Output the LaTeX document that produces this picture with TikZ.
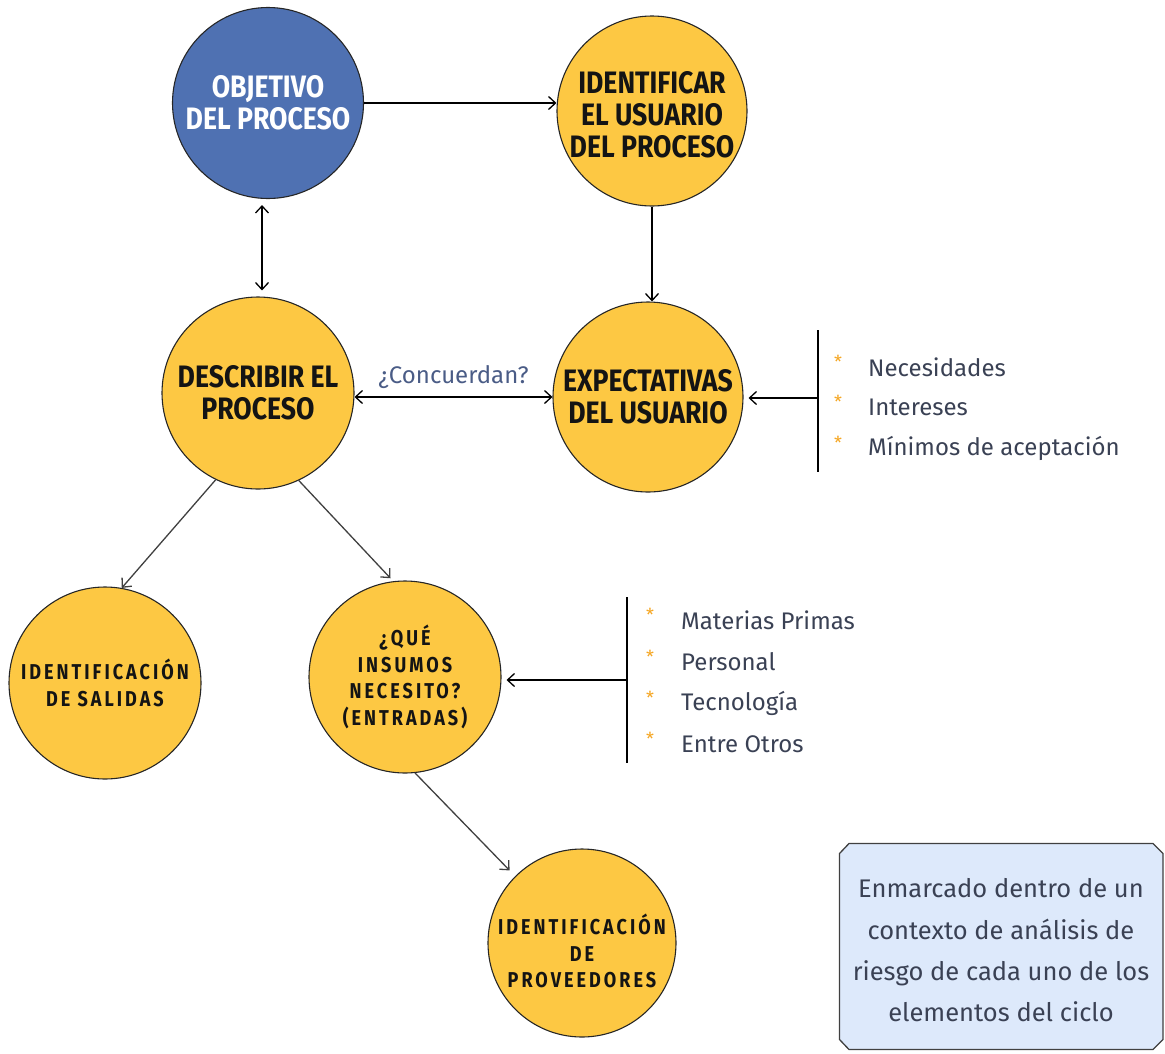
\documentclass[tikz,border=0pt]{standalone}
\usepackage{fontspec}
\setmainfont{Fira Sans}
\newfontfamily\condfont[FakeStretch=0.86]{Fira Sans}
\newfontfamily\condspaced[FakeStretch=0.84,LetterSpace=14]{Fira Sans}
\usetikzlibrary{arrows.meta,calc}
\definecolor{yellowc}{HTML}{FDC843}
\definecolor{bluec}{HTML}{4F71B2}
\definecolor{itemc}{HTML}{3A4154}
\definecolor{askc}{HTML}{4A5C86}
\definecolor{starc}{HTML}{F5A623}
\definecolor{boxc}{HTML}{DDE9FB}
\begin{document}
\begin{tikzpicture}[x=1pt,y=-1pt,
  circ/.style={circle, draw=black!85, line width=1.1pt, minimum size=190pt, inner sep=0pt,
     align=center, fill=yellowc, text=black!92},
  bigtxt/.style={font=\condfont\bfseries\fontsize{31}{32}\selectfont},
  smalltxt/.style={font=\condspaced\bfseries\fontsize{21.5}{26.5}\selectfont},
  arr/.style={-{Straight Barb[length=7pt,width=13pt]}, line width=1.3pt},
  darr/.style={{Straight Barb[length=7pt,width=13pt]}-{Straight Barb[length=7pt,width=13pt]}, line width=1.3pt},
  item/.style={anchor=west, text=itemc, font=\fontsize{24}{26}\selectfont, inner sep=0pt},
  star/.style={anchor=center, text=starc, font=\fontsize{18}{18}\selectfont, inner sep=0pt},
  noteframe/.style={draw=black!75, line width=1.3pt, fill=boxc, line join=round},
  notetext/.style={align=center, text=itemc, font=\fontsize{25.5}{41.3}\selectfont, inner sep=0pt}
]
\useasboundingbox (0,0) rectangle (1165,1053);

% circles
\node[circ, bigtxt, fill=bluec, text=white, minimum size=191pt] (obj) at (268,103) {OBJETIVO\\DEL PROCESO};
\node[circ, bigtxt] (ident) at (652,111) {\\[-3pt]IDENTIFICAR\\EL USUARIO\\DEL PROCESO};
\node[circ, bigtxt, minimum size=192pt] (desc) at (258,393) {DESCRIBIR EL\\PROCESO};
\node[circ, bigtxt] (exp) at (648,397) {EXPECTATIVAS\\DEL USUARIO};
\node[circ, smalltxt, minimum size=192pt] (sal) at (105,683) {IDENTIFICACIÓN\\DE SALIDAS};
\node[circ, smalltxt, minimum size=192pt] (ins) at (405,677) {¿QUÉ\\INSUMOS\\NECESITO?\\(ENTRADAS)};
\node[circ, minimum size=188pt] (prov) at (582,943) {};
\node[smalltxt, align=center, text=black!92, inner sep=0pt] (provtxt) at ([yshift=-8pt]prov.center) {IDENTIFICACIÓN\\DE\\PROVEEDORES};

% connectors
\draw[arr] (obj.east) -- (obj.east -| ident.west);
\draw[arr] (ident.south) -- (ident.south |- exp.north);
\draw[darr, shorten <=6pt, shorten >=6pt] ([xshift=-6pt]obj.south) -- ([xshift=4pt]desc.north);
\draw[darr] (exp.west -| desc.east) -- node[above=4pt, text=askc, font=\fontsize{24}{26}\selectfont] (ask) {¿Concuerdan?} (exp.west);
\draw[arr, black!75] (desc.244) -- (sal.80);
\draw[arr, black!75, shorten >=4pt] (desc.295) -- (ins.97);
\draw[arr, black!75, shorten >=8pt] (ins.276) -- (prov.135);

% list 1
\coordinate (b1top) at (818,330);
\coordinate (b1bot) at (818,472);
\coordinate (b1mid) at (818,398);
\draw[line width=1.3pt] (b1top) -- (b1bot);
\draw[arr, shorten >=5pt] (b1mid) -- (b1mid -| exp.east);
\node[star] (s11) at (838,362) {*};
\node[star] (s12) at (838,402) {*};
\node[star] (s13) at (838,443) {*};
\node[item] (i11) at (868,367) {Necesidades};
\node[item] (i12) at (868,407) {Intereses};
\node[item] (i13) at (868,448) {Mínimos de aceptación};

% list 2
\coordinate (b2top) at (627,597);
\coordinate (b2bot) at (627,763);
\coordinate (b2mid) at (627,680);
\draw[line width=1.3pt] (b2top) -- (b2bot);
\draw[arr, shorten >=5pt] (b2mid) -- (b2mid -| ins.east);
\node[star] (s21) at (650,615) {*};
\node[star] (s22) at (650,657) {*};
\node[star] (s23) at (650,698) {*};
\node[star] (s24) at (650,739) {*};
\node[item] (i21) at (681,620) {Materias Primas};
\node[item] (i22) at (681,662) {Personal};
\node[item] (i23) at (681,703) {Tecnología};
\node[item] (i24) at (681,744) {Entre Otros};

% note box
\draw[noteframe] (849,843.5) -- (1153,843.5) -- (1163,853.5) -- (1163,1039.5) -- (1153,1049.5)
   -- (849,1049.5) -- (839.5,1039.5) -- (839.5,853.5) -- cycle;
\node[notetext] (note) at (1001,950.5) {Enmarcado dentro de un\\contexto de análisis de\\riesgo de cada uno de los\\elementos del ciclo};
\end{tikzpicture}
\end{document}
